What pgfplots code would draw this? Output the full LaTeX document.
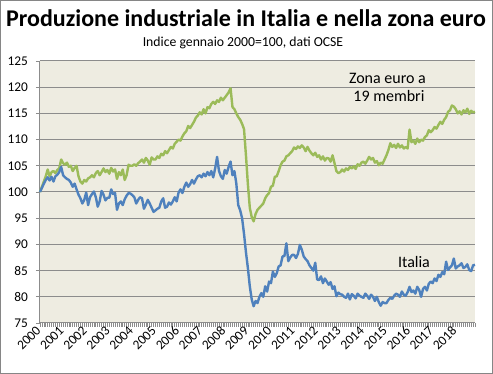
\documentclass[border=0pt]{standalone}
\usepackage{pgfplots}
\pgfplotsset{compat=1.18}
\usepackage{pgfplotstable}
\usepackage{fontspec}
\setmainfont{Carlito}
\definecolor{eugreen}{RGB}{155,187,89}
\definecolor{itblue}{RGB}{79,129,189}
\definecolor{plotbg}{RGB}{238,236,225}
\definecolor{gridc}{RGB}{140,140,140}
\definecolor{framec}{RGB}{134,134,134}

% Italia, monthly, Jan 2000 - Nov 2018
\pgfplotstableread[row sep=\\]{
v\\
100\\100.8\\101.6\\102.3\\102.8\\102.2\\102.9\\102.0\\103.0\\103.3\\103.8\\104.8\\
103.2\\102.8\\102.5\\102.3\\101.8\\101.0\\101.6\\100.5\\99.5\\98.8\\97.8\\98.5\\
99.9\\97.5\\99.0\\99.6\\100.1\\99.0\\97.2\\98.2\\100.2\\99.5\\98.4\\98.9\\
98.9\\100.5\\99.6\\99.8\\96.6\\97.8\\98.2\\97.5\\98.6\\99.3\\99.8\\99.7\\
99.4\\99.0\\97.8\\98.5\\99.0\\98.8\\96.8\\97.6\\98.5\\97.8\\97.0\\96.2\\
96.5\\96.8\\97.0\\98.2\\98.8\\97.0\\97.2\\98.0\\97.6\\98.2\\99.0\\98.2\\
99.9\\100.5\\99.8\\101.0\\101.8\\101.0\\101.5\\102.3\\101.6\\102.4\\103.0\\103.2\\
102.8\\103.5\\103.0\\103.8\\103.2\\104.0\\102.8\\104.5\\106.7\\104.0\\103.0\\102.5\\
104.2\\103.5\\104.8\\105.8\\103.2\\104.0\\101.6\\97.5\\96.5\\95.0\\92.0\\88.5\\
85.5\\82.0\\79.5\\78.2\\79.2\\78.8\\80.0\\80.7\\80.0\\82.0\\81.0\\82.9\\
82.6\\84.8\\83.8\\84.5\\85.8\\86.0\\87.7\\87.8\\90.2\\86.8\\87.5\\88.0\\
88.0\\87.4\\88.2\\89.9\\89.0\\87.7\\87.2\\86.8\\86.0\\85.5\\85.0\\86.5\\
83.3\\83.2\\83.9\\82.6\\83.5\\82.9\\82.3\\82.8\\81.5\\82.0\\80.1\\80.8\\
80.5\\80.4\\80.0\\79.8\\80.6\\79.5\\80.5\\80.2\\79.7\\80.6\\80.2\\80.0\\
79.8\\80.6\\80.2\\79.6\\80.4\\80.0\\79.2\\80.0\\79.0\\78.3\\79.0\\78.8\\
78.8\\79.4\\79.8\\79.6\\80.2\\80.6\\80.4\\80.0\\81.0\\80.4\\80.2\\80.9\\
81.9\\80.9\\81.2\\80.6\\81.9\\81.3\\80.0\\81.5\\81.9\\81.2\\82.5\\82.9\\
82.6\\83.5\\83.0\\84.2\\83.8\\84.7\\84.3\\86.7\\85.1\\85.6\\86.0\\87.3\\
85.4\\85.8\\86.0\\86.4\\85.5\\85.7\\86.2\\85.1\\84.9\\86.0\\86.1\\
}\italia

% Zona euro a 19 membri, monthly, Jan 2000 - Nov 2018
\pgfplotstableread[row sep=\\]{
v\\
100\\101\\102\\103\\104.3\\103.0\\103.8\\104.0\\103.6\\104.2\\104.5\\106.2\\
105.5\\105.2\\105.6\\104.8\\105.0\\104.0\\104.6\\105.0\\103.0\\102.0\\101.6\\102.3\\
102.0\\102.6\\102.8\\103.2\\102.8\\103.6\\104.0\\103.2\\103.8\\104.5\\103.8\\104.2\\
103.5\\104.6\\103.9\\104.3\\102.5\\103.8\\103.2\\104.3\\102.3\\103.2\\105.2\\105.0\\
105.0\\105.3\\105.0\\105.5\\105.8\\106.2\\105.6\\106.5\\106.0\\105.2\\106.6\\106.2\\
106.2\\106.8\\106.5\\107.3\\107.0\\107.8\\107.4\\108.0\\108.6\\108.3\\109.2\\109.6\\
110.0\\109.8\\110.6\\111.2\\111.6\\112.6\\112.2\\112.8\\113.4\\114.2\\114.6\\115.2\\
114.8\\115.8\\115.0\\116.2\\116.0\\116.8\\117.2\\116.8\\117.5\\117.2\\118.0\\117.5\\
118.0\\118.5\\119.0\\119.8\\116.2\\115.8\\115.0\\114.3\\113.8\\113.0\\112.0\\107.0\\
101.5\\97.0\\95.2\\94.4\\95.8\\96.6\\97.0\\97.4\\97.8\\98.8\\99.4\\99.8\\
101.0\\101.2\\102.9\\103.0\\104.0\\105.1\\105.8\\106.0\\106.8\\107.0\\107.4\\107.8\\
108.5\\108.2\\108.7\\108.4\\108.9\\108.5\\107.8\\108.6\\107.9\\107.4\\107.0\\107.5\\
106.7\\107.0\\106.2\\106.8\\106.0\\106.5\\106.4\\105.8\\107.0\\105.5\\104.0\\103.6\\
103.8\\104.3\\103.9\\104.5\\104.2\\104.8\\104.5\\104.9\\104.4\\105.3\\105.0\\105.6\\
105.8\\105.4\\106.0\\106.7\\106.2\\106.5\\105.6\\105.9\\105.1\\105.6\\105.4\\106.2\\
107.0\\108.0\\109.3\\108.6\\109.0\\108.4\\109.2\\108.5\\108.9\\108.3\\108.6\\108.3\\
111.9\\109.5\\109.8\\109.2\\110.2\\109.5\\110.0\\109.8\\110.5\\110.8\\111.8\\111.4\\
111.8\\112.4\\112.1\\112.8\\113.4\\113.0\\113.8\\114.3\\115.3\\115.6\\116.5\\116.3\\
115.8\\115.0\\115.4\\114.8\\115.6\\115.2\\115.9\\114.9\\115.5\\115.2\\115.3\\
}\euro

\begin{document}
\begin{tikzpicture}
\useasboundingbox (0,0) rectangle (369.75pt,280.5pt);
\fill[white] (0,0) rectangle (369.75pt,280.5pt);
\draw[framec, line width=0.75pt] (0.375pt,0.375pt) rectangle (369.375pt,280.125pt);
\node[anchor=base, inner sep=0pt, font=\fontsize{18}{20}\bfseries\selectfont] at (184.5pt,260.25pt) {Produzione industriale in Italia e nella zona euro};
\node[anchor=base, inner sep=0pt, font=\fontsize{10.3}{12}\selectfont] at (182.25pt,245.5pt) {Indice gennaio 2000=100, dati OCSE};
\begin{axis}[
  at={(30pt,38.25pt)}, anchor=south west,
  scale only axis, width=326.25pt, height=196.5pt,
  xmin=0, xmax=226, ymin=75, ymax=125,
  ytick={75,80,...,125},
  xtick={0,12,24,36,48,60,72,84,96,108,120,132,144,156,168,180,192,204,216},
  xticklabels={2000,2001,2002,2003,2004,2005,2006,2007,2008,2009,2010,2011,2012,2013,2014,2015,2016,2017,2018},
  minor xtick={0,...,226},
  ymajorgrids, grid style={gridc, line width=0.75pt},
  axis background/.style={fill=plotbg},
  axis x line*=bottom, axis y line*=left,
  axis line style={gridc, line width=0.75pt},
  tick align=outside, xtick pos=bottom, ytick pos=left,
  major tick length=3pt, minor tick length=3pt,
  every tick/.style={gridc, line width=0.5pt},
  every minor tick/.style={gridc, line width=0.5pt},
  every tick label/.append style={font=\fontsize{10}{12}\selectfont, text=black},
  yticklabel style={xshift=-2.5pt},
  xticklabel style={rotate=45, anchor=east, inner sep=1.5pt},
  /pgf/number format/assume math mode=true,
  clip=false,
]
\addplot[eugreen, line width=1.8pt, line join=round, no markers] table[x expr=\coordindex, y=v]{\euro};
\addplot[itblue, line width=1.8pt, line join=round, no markers] table[x expr=\coordindex, y=v]{\italia};
\node[anchor=base, font=\fontsize{12}{14}\selectfont] at (axis cs:180.5,120.7) {Zona euro a};
\node[anchor=base, font=\fontsize{12}{14}\selectfont] at (axis cs:181.3,117.2) {19 membri};
\node[anchor=base, font=\fontsize{12}{14}\selectfont] at (axis cs:194.3,85.55) {Italia};
\end{axis}
\end{tikzpicture}
\end{document}
